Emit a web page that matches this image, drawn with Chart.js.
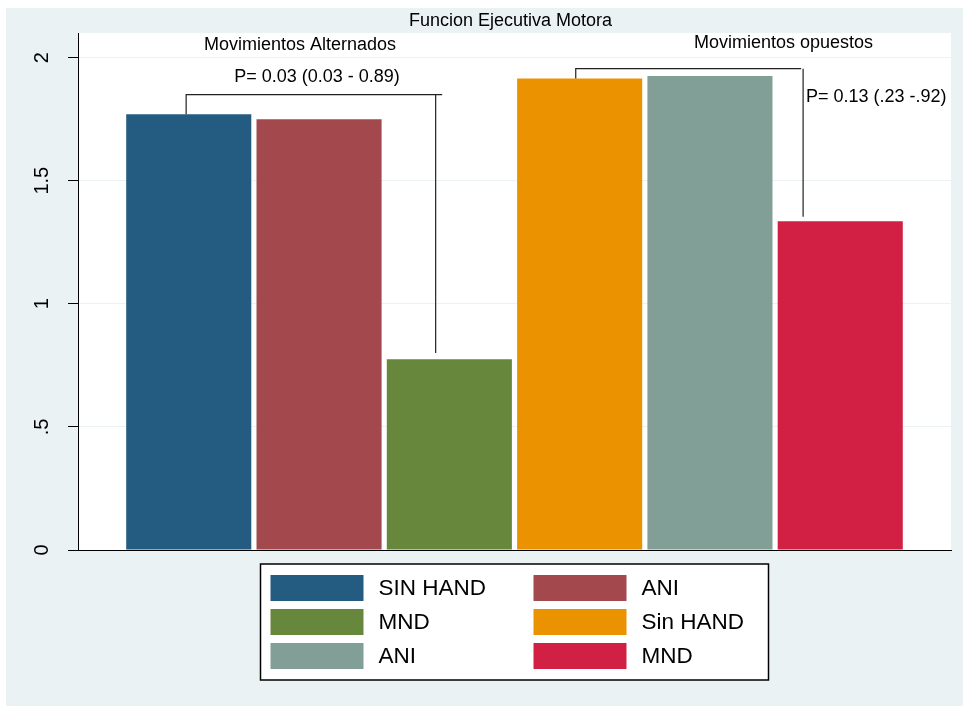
<!DOCTYPE html>
<html>
<head>
<meta charset="utf-8">
<script src="https://cdn.jsdelivr.net/npm/chart.js@4.4.0/dist/chart.umd.min.js"></script>
<style>
body { margin: 0; background: #fff; }
canvas { display: block; }
</style>
</head>
<body>
<canvas id="graficoFuncion" width="963" height="706"></canvas>
<script>

// grupos y medias de la funcion ejecutiva motora
const grupos = ["SIN HAND", "ANI", "MND", "Sin HAND", "ANI", "MND"];
const posiciones = [0, 1, 2, 3, 4, 5];
const valores = [1.77, 1.75, 0.775, 1.915, 1.925, 1.335];
const colores = ["#245b81", "#a3494e", "#66873c", "#ea9200", "#819f96", "#d22044"];

const ticksY = [0, 0.5, 1, 1.5, 2];
const etiquetasY = ["0", ".5", "1", "1.5", "2"];

const fuente = "'Liberation Sans', Arial, sans-serif";

function texto(c, str, x, y, tam, alinear){
    c.font = tam + "px " + fuente;
    c.fillStyle = "#000";
    c.textAlign = alinear || "center";
    c.textBaseline = "middle";
    c.fillText(str, x, y);
}

function corchete(c, sx, sy, izq, der, fin, arriba, bajoIzq, bajoDer){
    c.beginPath();
    c.moveTo(sx(izq), sy(bajoIzq));
    c.lineTo(sx(izq), sy(arriba));
    c.lineTo(sx(fin), sy(arriba));
    c.moveTo(sx(der), sy(arriba));
    c.lineTo(sx(der), sy(bajoDer));
    c.stroke();
}

const fondoYTextos = {
    id: "fondoYTextos",
    beforeDraw(chart){
        const c = chart.ctx;
        const a = chart.chartArea;
        c.save();
        c.fillStyle = "#ffffff";
        c.fillRect(0, 0, chart.width, chart.height);
        c.fillStyle = "#eaf2f3";
        c.fillRect(6, 8, chart.width - 6, chart.height - 8);
        c.fillStyle = "#ffffff";
        c.fillRect(a.left, a.top, a.right - a.left, a.bottom - a.top);
        c.restore();
    },
    afterDraw(chart){
        const c = chart.ctx;
        const a = chart.chartArea;
        const ejeX = chart.scales.x;
        const ejeY = chart.scales.y;
        const sx = v => ejeX.getPixelForValue(v);
        const sy = v => ejeY.getPixelForValue(v);

        c.save();

        // titulo
        texto(c, "Funcion Ejecutiva Motora", (a.left + a.right) / 2 - 4, 21, 18);

        // etiquetas del eje y, giradas
        for(let i = 0; i < ticksY.length; i++){
            c.save();
            c.translate(42, sy(ticksY[i]));
            c.rotate(-Math.PI / 2);
            texto(c, etiquetasY[i], 0, 0, 20);
            c.restore();
        }

        // subtitulos de cada bloque
        texto(c, "Movimientos Alternados", sx(0.854), sy(2.053), 18);
        texto(c, "Movimientos opuestos", sx(4.564), sy(2.061), 18);

        // corchetes de comparacion
        c.strokeStyle = "#222";
        c.lineWidth = 1.2;
        corchete(c, sx, sy, -0.02, 1.895, 1.945, 1.85, valores[0], 0.80);
        corchete(c, sx, sy, 2.97, 4.715, 4.70, 1.955, valores[3], 1.354);

        texto(c, "P= 0.03 (0.03 - 0.89)", sx(0.984), sy(1.923), 18);
        texto(c, "P= 0.13 (.23 -.92)", sx(4.737), sy(1.841), 18, "left");

        // leyenda en dos columnas
        const caja = { x: (a.left + a.right) / 2 - 254, y: a.bottom + 14, w: 508, h: 116 };
        c.fillStyle = "#ffffff";
        c.fillRect(caja.x, caja.y, caja.w, caja.h);
        c.strokeStyle = "#000";
        c.lineWidth = 1.5;
        c.strokeRect(caja.x, caja.y, caja.w, caja.h);

        for(let i = 0; i < grupos.length; i++){
            let col = i % 2;
            let fila = Math.floor(i / 2);
            let x = caja.x + 10 + col * 263;
            let y = caja.y + 24 + fila * 34;
            c.fillStyle = colores[i];
            c.fillRect(x, y - 13, 93, 26);
            texto(c, grupos[i], x + 108, y + 1, 22.5, "left");
        }

        c.restore();
    }
};

const puntos = posiciones.map((p, i) => ({ x: p, y: valores[i] }));

new Chart(document.getElementById("graficoFuncion"), {
    type: "bar",
    data: {
        datasets: [{
            label: "Funcion Ejecutiva Motora",
            data: puntos,
            backgroundColor: colores,
            borderWidth: 0,
            barPercentage: 0.96,
            categoryPercentage: 1
        }]
    },
    options: {
        responsive: false,
        animation: false,
        devicePixelRatio: 1,
        layout: { padding: { left: 0, top: 33, right: 12, bottom: 156 } },
        plugins: {
            legend: { display: false },
            tooltip: { enabled: false }
        },
        scales: {
            x: {
                type: "linear",
                min: -0.85,
                max: 5.85,
                offset: false,
                grid: { display: false },
                ticks: { display: false },
                border: { display: true, color: "#000", width: 1 },
                afterBuildTicks(scale){
                    scale.ticks = posiciones.map(v => ({ value: v }));
                },
                afterFit(scale){ scale.height = 0; }
            },
            y: {
                min: 0,
                max: 2.1,
                grid: {
                    color: ctx => ctx.tick && ctx.tick.value === 0 ? "rgba(0,0,0,0)" : "#eaf2f3",
                    lineWidth: 1,
                    tickLength: 10,
                    tickColor: "#000",
                    drawTicks: true
                },
                ticks: { display: false },
                border: { display: true, color: "#000", width: 1 },
                afterBuildTicks(scale){
                    scale.ticks = ticksY.map(v => ({ value: v }));
                },
                afterFit(scale){ scale.width = 78; }
            }
        }
    },
    plugins: [fondoYTextos]
});

</script>
</body>
</html>
